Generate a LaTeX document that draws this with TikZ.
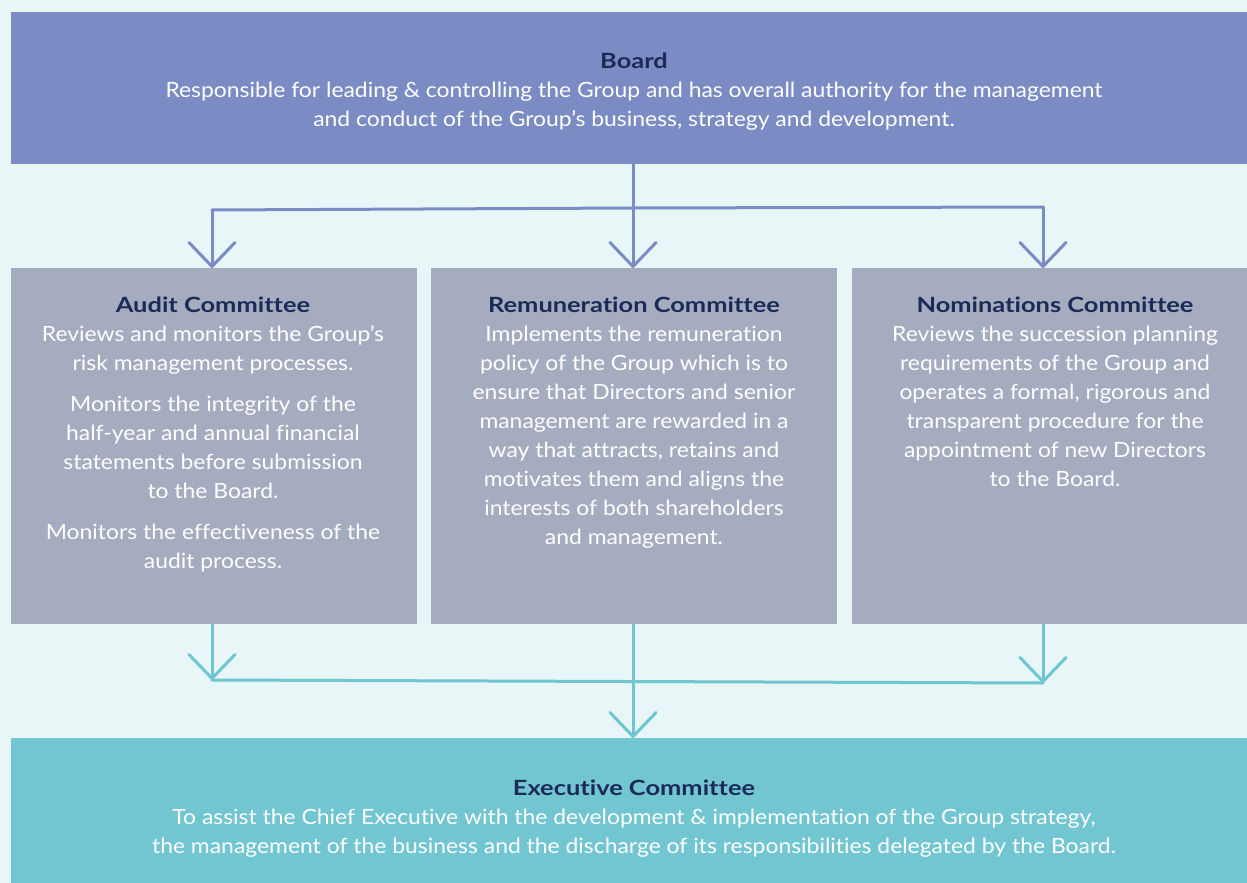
\documentclass[tikz,border=0pt]{standalone}
\usepackage{fontspec}
\setmainfont{Lato}[Ligatures=NoCommon, FakeStretch=1.09, BoldFeatures={FakeStretch=1.21}]
\usetikzlibrary{arrows.meta}
\definecolor{bgc}{HTML}{E8F6F7}
\definecolor{boardc}{HTML}{7B8CC5}
\definecolor{comc}{HTML}{A6ACBF}
\definecolor{execc}{HTML}{72C6D1}
\definecolor{navy}{HTML}{1B2A56}
\definecolor{linetop}{HTML}{7B8CC5}
\definecolor{linebot}{HTML}{6EC6D1}
\tikzset{
  panel/.style={inner sep=0pt, outer sep=0pt, anchor=north west, draw=none},
  txt/.style={inner sep=0pt, outer sep=0pt, anchor=north, align=center, text=white,
    font=\fontsize{21}{29}\selectfont},
  conntop/.style={draw=linetop, line width=3pt, line cap=round, line join=round},
  connbot/.style={draw=linebot, line width=3pt, line cap=round, line join=round},
  vtip/.style={-{Straight Barb[length=24pt,width=46pt,line width=3pt,round]}}
}
\newcommand{\ttlx}[1]{{\color{navy}\bfseries #1}}
\newcommand{\stx}{\rule{0pt}{21pt}}
\begin{document}
\begin{tikzpicture}[x=1pt,y=-1pt]
\fill[bgc] (0,0) rectangle (1247,883);
\useasboundingbox (0,0) rectangle (1247,883);
% panels
\node[panel, fill=boardc, minimum width=1236pt, minimum height=152pt] (board) at (11,12) {};
\node[panel, fill=comc, minimum width=406pt, minimum height=356pt] (audit) at (11,268) {};
\node[panel, fill=comc, minimum width=406pt, minimum height=356pt] (remun) at (431,268) {};
\node[panel, fill=comc, minimum width=395pt, minimum height=356pt] (nomin) at (852,268) {};
\node[panel, fill=execc, minimum width=1236pt, minimum height=145pt] (exec) at (11,738) {};
% texts
\node[txt] (boardtxt) at (634,47) {\stx\ttlx{Board}\\
Responsible for leading \& controlling the Group and has overall authority for the management\\
and conduct of the Group’s business, strategy and development.};
\node[txt] (audittxt) at (213,291) {\stx\ttlx{Audit Committee}\\
Reviews and monitors the Group’s\\
risk management processes.\\[12pt]
Monitors the integrity of the\\
half-year and annual financial\\
statements before submission\\
to the Board.\\[12pt]
Monitors the effectiveness of the\\
audit process.};
\node[txt] (remuntxt) at (634,291) {\stx\ttlx{Remuneration Committee}\\
Implements the remuneration\\
policy of the Group which is to\\
ensure that Directors and senior\\
management are rewarded in a\\
way that attracts, retains and\\
motivates them and aligns the\\
interests of both shareholders\\
and management.};
\node[txt] (nomintxt) at (1055,291) {\stx\ttlx{Nominations Committee}\\
Reviews the succession planning\\
requirements of the Group and\\
operates a formal, rigorous and\\
transparent procedure for the\\
appointment of new Directors\\
to the Board.};
\node[txt] (exectxt) at (634,774) {\stx\ttlx{Executive Committee}\\
To assist the Chief Executive with the development \& implementation of the Group strategy,\\
the management of the business and the discharge of its responsibilities delegated by the Board.};
% top connectors
\coordinate (bs) at (633,164);
\coordinate (jt) at (633,208);
\coordinate (jl) at (212,210);
\coordinate (jr) at (1043,207);
\draw[conntop] (jl) -- (jt) -- (jr);
\draw[conntop, vtip] (bs) -- (bs |- remun.north);
\draw[conntop, vtip] (jl) -- (jl |- audit.north);
\draw[conntop, vtip] (jr) -- (jr |- nomin.north);
% bottom connectors
\coordinate (al) at (212,624);
\coordinate (ar) at (1043,624);
\coordinate (am) at (633,624);
\coordinate (bl) at (212,680);
\coordinate (br) at (1043,683);
\draw[connbot] (bl) -- (br);
\draw[connbot, vtip] (al) -- (bl);
\draw[connbot, vtip] (ar) -- (br);
\draw[connbot, vtip] (am) -- (am |- exec.north);
\end{tikzpicture}
\end{document}
